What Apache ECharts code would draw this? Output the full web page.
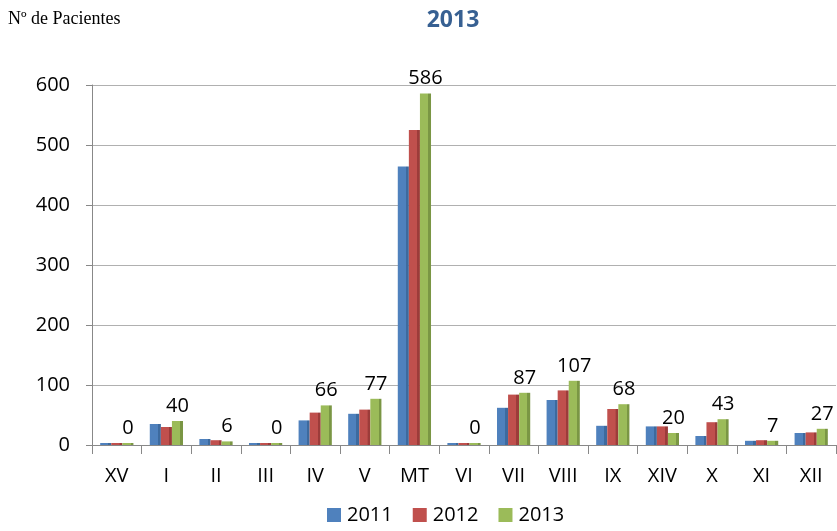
<!DOCTYPE html>
<html><head><meta charset="utf-8">
<script src="https://cdn.jsdelivr.net/npm/echarts@6/dist/echarts.min.js"></script>
<style>html,body{margin:0;padding:0;background:#fff}#c{width:837px;height:531px}</style>
</head><body><div id="c"></div>
<script>
const categories = ['XV','I','II','III','IV','V','MT','VI','VII','VIII','IX','XIV','X','XI','XII'];
const s2011 = [0,35,10,0,41,52,464,0,62,75,32,31,15,7,20];
const s2012 = [0,30,8,0,54,59,525,0,84,91,60,31,38,8,21];
const s2013 = [0,40,6,0,66,77,586,0,87,107,68,20,43,7,27];
const yTicks = [0,100,200,300,400,500,600];
const seriesNames = ['2011','2012','2013'];
const colors = ['#4F81BD','#C0504D','#9BBB59'];
const darks = ['#3d6a9e','#9c3c3a','#7a9644'];

const font = 'Open Sans';
function bar(i, data, label) {
  return {
    name: seriesNames[i], type: 'bar', data, barGap: '0%', barCategoryGap: '33%', barMinHeight: 2,
    itemStyle: { color: { type: 'linear', x: 0, y: 0, x2: 1, y2: 0,
      colorStops: [{offset:0,color:colors[i]},{offset:0.74,color:colors[i]},{offset:0.75,color:darks[i]},{offset:1,color:darks[i]}] } },
    label: label ? { show: true, position: 'top', distance: 5, color: '#000', fontSize: 20, fontFamily: font } : { show: false }
  };
}
const chart = echarts.init(document.getElementById('c'));
chart.setOption({
  animation: false,
  title: [
    { text: '2013', left: 448, top: 4, textAlign: 'center', textStyle: { color: '#376092', fontSize: 23, fontWeight: 'bold', fontFamily: font } },
    { text: 'Nº de Pacientes', left: 3, top: 5, textStyle: { color: '#000', fontSize: 18, fontWeight: 'normal', fontFamily: 'Liberation Serif' } }
  ],
  legend: {
    bottom: 1, left: 322, itemWidth: 14, itemHeight: 14, itemGap: 20, icon: 'rect',
    textStyle: { fontSize: 20, color: '#000', fontFamily: font, padding: [0,0,0,1] },
    data: seriesNames.map((n, i) => ({ name: n, itemStyle: { color: colors[i] } }))
  },
  grid: { left: 92, right: 1, top: 85, bottom: 86 },
  xAxis: {
    type: 'category', data: categories,
    axisLine: { lineStyle: { color: '#888' } },
    axisTick: { show: true, alignWithLabel: false, length: 9, lineStyle: { color: '#888' } },
    axisLabel: { color: '#000', fontSize: 20, fontFamily: font, margin: 21 }
  },
  yAxis: {
    type: 'value', min: 0, max: 600, interval: 100,
    axisLine: { show: true, lineStyle: { color: '#888' } },
    axisTick: { show: true, length: 6, lineStyle: { color: '#888' } },
    axisLabel: { color: '#000', fontSize: 20, fontFamily: font, margin: 22,
      formatter: v => yTicks.includes(v) ? String(v) : '' },
    splitLine: { lineStyle: { color: '#b0b0b0', width: 1 } }
  },
  series: [
    bar(0, s2011, false),
    bar(1, s2012, false),
    bar(2, s2013, true)
  ]
});
</script></body></html>
